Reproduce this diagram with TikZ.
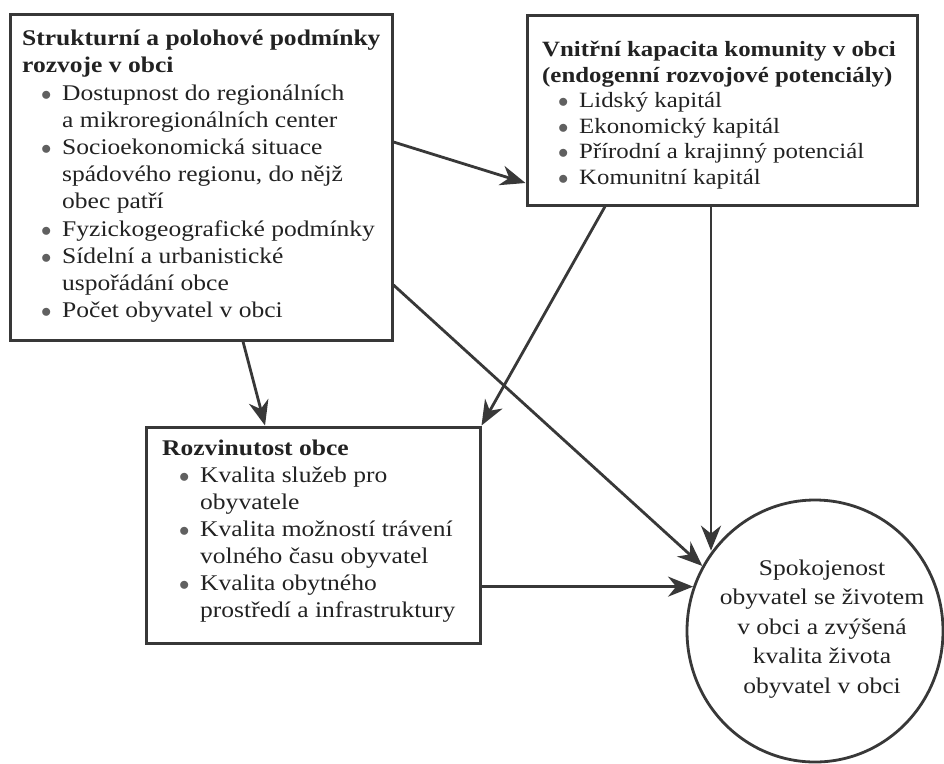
\documentclass[tikz,border=0pt]{standalone}
\usepackage{fontspec}
\setmainfont{Liberation Serif}[FakeStretch=1.14]
\usetikzlibrary{arrows.meta,shapes.geometric}
\definecolor{ink}{HTML}{383838}
\definecolor{txt}{HTML}{222222}
\newlength{\bind}\newlength{\bwd}
\newcommand{\bitem}[1]{\hspace*{\bind}\makebox[\bwd][l]{\textcolor{ink!80}{$\bullet$}}#1}
\newcommand{\citem}[1]{\hspace*{\bind}\hspace*{\bwd}#1}
\begin{document}
\begin{tikzpicture}[x=1pt,y=-1pt,
  box/.style={draw=ink, line width=3pt, rectangle, inner sep=0pt},
  txtblock/.style={anchor=north west, inner sep=0pt, align=left, text=txt},
  conn/.style={draw=ink, line width=2.8pt, -{Stealth[length=25pt,width=20pt,inset=8pt]}}]
\useasboundingbox (0,0) rectangle (944,763);
\fill[white] (0,0) rectangle (944,763);
% boxes
\node[box, minimum width=382pt, minimum height=326pt] (b1) at (201,177) {};
\node[box, minimum width=390pt, minimum height=190pt] (b2) at (722,110) {};
\node[box, minimum width=334pt, minimum height=216pt] (b3) at (313,535) {};
\node[draw=ink, line width=2.8pt, ellipse, minimum width=256pt, minimum height=262pt, inner sep=0pt] (ell) at (815,631) {};
% texts
\node[txtblock, font={\fontsize{22.4}{27.2}\selectfont\setlength{\bind}{19pt}\setlength{\bwd}{21pt}}] (t1) at (22,30) {%
\textbf{Strukturní a polohové podmínky}\\
\textbf{rozvoje v obci}\\
\bitem{Dostupnost do regionálních}\\
\citem{a mikroregionálních center}\\
\bitem{Socioekonomická situace}\\
\citem{spádového regionu, do nějž}\\
\citem{obec patří}\\
\bitem{Fyzickogeografické podmínky}\\
\bitem{Sídelní a urbanistické}\\
\citem{uspořádání obce}\\
\bitem{Počet obyvatel v obci}};
\node[txtblock, font={\fontsize{21.8}{25.5}\selectfont\setlength{\bind}{16pt}\setlength{\bwd}{21pt}}] (t2) at (542,41) {%
\textbf{Vnitřní kapacita komunity v obci}\\
\textbf{(endogenní rozvojové potenciály)}\\
\bitem{Lidský kapitál}\\
\bitem{Ekonomický kapitál}\\
\bitem{Přírodní a krajinný potenciál}\\
\bitem{Komunitní kapitál}};
\node[txtblock, font={\fontsize{22.4}{27}\selectfont\setlength{\bind}{17pt}\setlength{\bwd}{21pt}}] (t3) at (162,440) {%
\textbf{Rozvinutost obce}\\
\bitem{Kvalita služeb pro}\\
\citem{obyvatele}\\
\bitem{Kvalita možností trávení}\\
\citem{volného času obyvatel}\\
\bitem{Kvalita obytného}\\
\citem{prostředí a infrastruktury}};
\node[align=center, inner sep=0pt, text=txt, font={\fontsize{22.4}{29.5}\selectfont}] (t4) at (822,629) {%
Spokojenost\\obyvatel se životem\\v obci a zvýšená\\kvalita života\\obyvatel v obci};
% connectors
\draw[conn] (b1.east |- 0,142) -- (b2.west |- 0,183);
\draw[conn] (b1.south -| 243,0) -- (b3.north -| 265,0);
\draw[conn] (b1.east |- 0,285) -- (ell.150);
\draw[conn] (b2.south -| 605,0) -- (b3.north east);
\draw[conn] (b2.south -| 711,0) -- (ell.142 -| 711,0);
\draw[conn] (b3.east |- ell.160) -- (ell.160);
\end{tikzpicture}
\end{document}
